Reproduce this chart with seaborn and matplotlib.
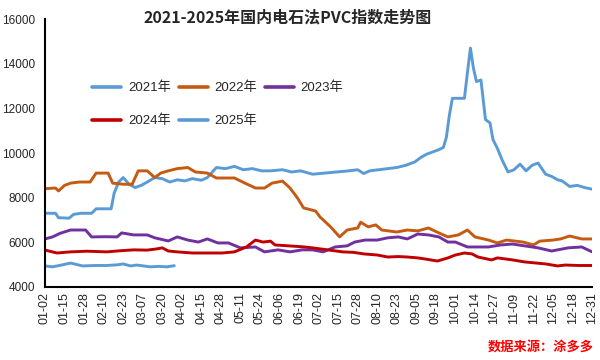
#2021-2025 PVC index (carbide method) line chart
import pandas as pd
import numpy as np
import matplotlib
matplotlib.use('Agg')
import matplotlib.pyplot as plt
import seaborn as sns

#day of year (leap-year calendar)
days_2021 = [2, 9, 11, 18, 21, 26, 33, 36, 46, 48, 51, 54, 58, 62, 66, 70, 75, 80, 85, 90, 95, 100, 106, 110,
             116, 122, 128, 134, 140, 146, 152, 160, 166, 172, 180, 188, 196, 204, 210, 214, 218, 224, 230, 236,
             242, 248, 252, 256, 260, 264, 267, 269, 271, 273, 281, 283, 285, 287, 289, 292, 295, 298, 300, 303,
             306, 310, 314, 318, 322, 326, 330, 335, 339, 343, 346, 351, 356, 361, 366]
vals_2021 = [7300, 7300, 7100, 7080, 7250, 7300, 7300, 7500, 7500, 8200, 8700, 8900, 8600, 8450, 8550, 8700,
             8900, 8850, 8700, 8800, 8750, 8850, 8780, 8900, 9350, 9300, 9400, 9250, 9300, 9200, 9200, 9250,
             9150, 9200, 9050, 9100, 9150, 9200, 9250, 9080, 9200, 9250, 9300, 9350, 9450, 9600, 9800, 9950,
             10050, 10150, 10250, 10700, 11700, 12450, 12450, 13600, 14700, 13800, 13200, 13270, 11500, 11350,
             10600, 10200, 9700, 9150, 9250, 9500, 9200, 9450, 9550, 9050, 8950, 8800, 8750, 8500, 8550, 8450, 8380]

days_2022 = [2, 6, 9, 11, 15, 19, 25, 32, 36, 44, 47, 54, 60, 64, 70, 75, 79, 84, 90, 97, 102, 110, 116, 122,
             128, 135, 142, 148, 153, 160, 165, 170, 174, 182, 185, 192, 198, 203, 210, 212, 217, 222, 226, 236,
             243, 250, 257, 264, 270, 277, 283, 288, 297, 303, 309, 320, 327, 331, 340, 345, 351, 359, 366]
vals_2022 = [8400, 8420, 8430, 8300, 8550, 8650, 8700, 8700, 9100, 9100, 8650, 8600, 8600, 9200, 9200, 8900,
             9100, 9200, 9300, 9350, 9150, 9100, 8880, 8880, 8880, 8650, 8430, 8430, 8650, 8740, 8430, 7980,
             7540, 7400, 7130, 6690, 6240, 6550, 6640, 6900, 6690, 6780, 6550, 6460, 6550, 6510, 6640, 6420,
             6240, 6330, 6550, 6240, 6100, 5970, 6100, 6010, 5880, 6050, 6100, 6150, 6280, 6150, 6150]

days_2023 = [2, 7, 12, 19, 29, 33, 42, 50, 53, 61, 70, 75, 84, 90, 97, 104, 110, 117, 124, 132, 142, 148, 157,
             165, 173, 180, 187, 195, 203, 208, 215, 223, 230, 237, 243, 250, 257, 264, 270, 275, 283, 297, 305,
             313, 326, 330, 339, 350, 359, 366]
vals_2023 = [6150, 6240, 6400, 6550, 6550, 6240, 6250, 6240, 6420, 6330, 6330, 6200, 6060, 6240, 6100, 6010,
             6150, 5970, 5970, 5750, 5790, 5570, 5660, 5570, 5660, 5660, 5570, 5790, 5840, 6010, 6100, 6100,
             6200, 6240, 6150, 6370, 6330, 6240, 6010, 6010, 5790, 5790, 5880, 5920, 5790, 5750, 5610, 5750,
             5790, 5570]

days_2024 = [2, 10, 19, 30, 43, 52, 61, 70, 76, 80, 84, 90, 100, 110, 120, 128, 136, 142, 147, 152, 155, 164,
             173, 180, 190, 200, 207, 214, 223, 230, 237, 243, 250, 255, 263, 270, 275, 281, 286, 290, 299, 303,
             313, 321, 335, 343, 348, 357, 366]
vals_2024 = [5650, 5520, 5570, 5600, 5570, 5620, 5660, 5650, 5700, 5750, 5610, 5570, 5520, 5520, 5520, 5570,
             5790, 6100, 6010, 6050, 5880, 5840, 5800, 5750, 5660, 5570, 5550, 5480, 5430, 5340, 5360, 5340,
             5300, 5250, 5160, 5300, 5430, 5520, 5480, 5340, 5210, 5300, 5210, 5120, 5030, 4940, 4980, 4960, 4960]

days_2025 = [2, 7, 13, 19, 27, 35, 43, 50, 54, 59, 63, 72, 78, 83, 88]
vals_2025 = [4940, 4900, 4980, 5070, 4940, 4960, 4960, 4990, 5030, 4940, 4980, 4900, 4920, 4900, 4950]

years = ['2021年', '2022年', '2023年', '2024年', '2025年']
colors = ['#5B9BD5', '#C55A11', '#7030A0', '#C00000', '#5B9BD5']

tick_days = list(range(2, 367, 13))
tick_labels = ['01-02', '01-15', '01-28', '02-10', '02-23', '03-07', '03-20', '04-02', '04-15', '04-28',
               '05-11', '05-24', '06-06', '06-19', '07-02', '07-15', '07-28', '08-10', '08-23', '09-05',
               '09-18', '10-01', '10-14', '10-27', '11-09', '11-22', '12-05', '12-18', '12-31']

frames = []
for yr, d, v in zip(years, [days_2021, days_2022, days_2023, days_2024, days_2025],
                    [vals_2021, vals_2022, vals_2023, vals_2024, vals_2025]):
    frames.append(pd.DataFrame({'day': d, 'value': v, 'year': yr}))
df = pd.concat(frames, ignore_index=True)

sns.set_style('white')
plt.rcParams['font.family'] = ['Liberation Sans', 'Noto Sans CJK SC', 'DejaVu Sans']

fig = plt.figure(figsize=(6, 3.6), dpi=100)
ax = fig.add_axes([0.075, 0.203, 0.912, 0.744])

sns.lineplot(data=df, x='day', y='value', hue='year', palette=dict(zip(years, colors)),
             estimator=None, sort=False, linewidth=2.1, ax=ax)

ax.set_xlim(2, 366)
ax.set_ylim(4000, 16000)
ax.set_yticks(np.arange(4000, 16001, 2000))
ax.set_xticks(tick_days)
ax.set_xticklabels(tick_labels, rotation=90, fontsize=9)
ax.tick_params(axis='y', labelsize=8.5, direction='in', length=4, pad=7)
ax.tick_params(axis='x', direction='in', length=4, pad=4)
ax.set_xlabel('')
ax.set_ylabel('')
for s in ['top', 'right']:
    ax.spines[s].set_visible(False)
for s in ['left', 'bottom']:
    ax.spines[s].set_color('black')
    ax.spines[s].set_linewidth(1.5)

#legend row-major: 2021 2022 2023 / 2024 2025
h, l = ax.get_legend_handles_labels()
order = [0, 3, 1, 4, 2]
leg = ax.legend([h[i] for i in order], [l[i] for i in order], ncol=3, frameon=False,
                loc='upper left', bbox_to_anchor=(0.065, 0.81), fontsize=9.5,
                handlelength=2.2, handletextpad=0.5, columnspacing=0.6, labelspacing=1.55)
for line in leg.get_lines():
    line.set_linewidth(2.6)

fig.text(0.48, 0.952, '2021-2025年国内电石法PVC指数走势图', ha='center', va='center',
         fontsize=11.5, fontweight='bold', family=['Noto Sans CJK SC', 'DejaVu Sans'])
fig.text(0.99, 0.035, '数据来源：涂多多', ha='right', va='center', fontsize=9.5, color='red',
         style='italic', fontweight='bold', family=['Noto Sans CJK SC', 'DejaVu Sans'])

fig.savefig('out.png', dpi=100)
